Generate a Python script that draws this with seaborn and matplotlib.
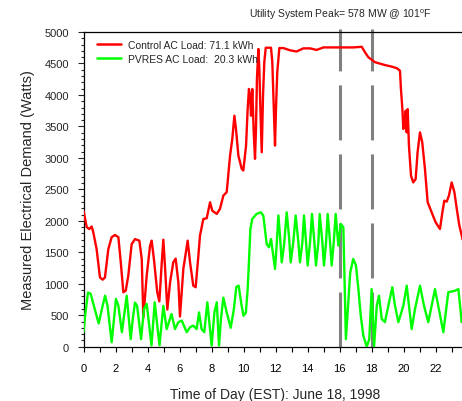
import matplotlib
matplotlib.use("Agg")
import matplotlib.pyplot as plt
import seaborn as sns
import pandas as pd
from matplotlib.ticker import MultipleLocator

# ---- data ----
control_hours = [0.00, 0.20, 0.36, 0.51, 0.61, 0.82, 1.03, 1.20, 1.34, 1.55, 1.76, 1.97, 2.18, 2.33,
                 2.49, 2.64, 2.80, 3.01, 3.22, 3.49, 3.64, 3.74, 3.95, 4.16, 4.26, 4.40, 4.61, 4.74,
                 4.88, 4.99, 5.09, 5.24, 5.41, 5.61, 5.76, 5.93, 6.03, 6.24, 6.51, 6.66, 6.86, 7.01,
                 7.18, 7.28, 7.49, 7.70, 7.91, 8.05, 8.33, 8.53, 8.74, 8.95, 9.16, 9.30, 9.43, 9.53,
                 9.68, 9.89, 9.99, 10.16, 10.26, 10.34, 10.41, 10.47, 10.55, 10.64, 10.72, 10.78,
                 10.84, 10.93, 10.99, 11.05, 11.14, 11.22, 11.30, 11.39, 11.55, 11.72, 11.80, 11.90,
                 11.97, 12.03, 12.11, 12.24, 12.49, 12.90, 13.32, 13.53, 13.74, 14.16, 14.57, 14.99,
                 15.40, 15.82, 16.24, 16.86, 17.39, 17.59, 17.80, 18.01, 18.22, 18.43, 18.84, 19.26,
                 19.58, 19.78, 19.84, 19.93, 19.99, 20.05, 20.14, 20.20, 20.26, 20.34, 20.47, 20.61,
                 20.76, 20.88, 21.03, 21.17, 21.34, 21.51, 21.76, 22.01, 22.28, 22.43, 22.55, 22.70,
                 22.84, 23.01, 23.18, 23.33, 23.49, 23.70]
control_watts = [2160, 1900, 1870, 1910, 1820, 1550, 1100, 1065, 1100, 1550, 1740, 1775, 1740, 1340,
                 865, 890, 1130, 1630, 1710, 1685, 1395, 460, 1130, 1605, 1685, 1395, 865, 720,
                 1290, 1700, 1290, 590, 1020, 1340, 1400, 1020, 480, 1235, 1685, 1340, 970, 945,
                 1445, 1765, 2030, 2040, 2295, 2160, 2110, 2190, 2400, 2455, 3035, 3300, 3670, 3460,
                 3035, 2825, 2800, 3195, 3775, 4095, 3990, 3670, 4095, 3405, 2985, 3460,
                 4255, 4730, 4415, 3830, 3090, 3990, 4520, 4750, 4750, 4750, 4520, 3725,
                 3195, 3780, 4360, 4745, 4745, 4710, 4690, 4715, 4740, 4740, 4715, 4755,
                 4755, 4755, 4755, 4755, 4765, 4680, 4600, 4560, 4520, 4505, 4475, 4450,
                 4425, 4385, 4095, 3775, 3460, 3565, 3750, 3405, 3775, 3195, 2715, 2610,
                 2665, 3090, 3405, 3250, 2825, 2295, 2135, 1975, 1870, 2135, 2320, 2305,
                 2400, 2610, 2455, 2190, 1925, 1700]

pvres_hours = [0.00, 0.10, 0.28, 0.45, 0.70, 0.95, 1.15, 1.35, 1.50, 1.76, 2.03, 2.18, 2.40, 2.70,
               2.95, 3.08, 3.22, 3.35, 3.60, 3.78, 3.95, 4.25, 4.45, 4.75, 4.99, 5.20, 5.50, 5.72,
               5.93, 6.14, 6.45, 6.66, 6.86, 7.07, 7.22, 7.38, 7.55, 7.74, 7.91, 8.01, 8.18, 8.33,
               8.47, 8.59, 8.74, 8.95, 9.20, 9.40, 9.55, 9.70, 9.85, 10.00, 10.15, 10.26, 10.34,
               10.43, 10.55, 10.82, 11.09, 11.24, 11.34, 11.45, 11.59, 11.72, 11.86, 11.97, 12.07,
               12.18, 12.28, 12.39, 12.53, 12.70, 12.84, 12.95, 13.11, 13.26, 13.43, 13.53, 13.68,
               13.78, 13.91, 14.01, 14.16, 14.28, 14.43, 14.53, 14.68, 14.76, 14.93, 15.03, 15.16,
               15.26, 15.41, 15.51, 15.64, 15.76, 15.93, 16.08, 16.24, 16.30, 16.40, 16.52, 16.67,
               16.86, 17.03, 17.18, 17.33, 17.49, 17.70, 17.86, 18.01, 18.16, 18.33, 18.47, 18.64,
               18.84, 19.05, 19.30, 19.47, 19.68, 19.99, 20.20, 20.51, 20.72, 21.03, 21.28, 21.55,
               21.97, 22.49, 22.80, 23.22, 23.43, 23.64, 23.75]
pvres_watts = [230, 490, 860, 840, 600, 370, 600, 810, 650, 70, 760, 650, 230, 810,
               120, 440, 700, 650, 120, 600, 680, 20, 705, 20, 650, 280, 520, 280,
               390, 415, 230, 310, 335, 280, 545, 280, 230, 705, 280, 16, 545, 705,
               16, 440, 780, 545, 300, 600, 950, 970, 700, 490, 545, 915, 1340,
               1870, 2030, 2110, 2135, 2080, 1870, 1630, 1580, 1710, 1445, 1235, 1605,
               2085, 1765, 1340, 1605, 2135, 1765, 1340, 1660, 2085, 1660, 1340, 1660,
               2085, 1660, 1290, 1660, 2110, 1660, 1290, 1660, 2110, 1660, 1290, 1660,
               2110, 1660, 1290, 1660, 2110, 1605, 1950, 1900, 1235, 120, 600, 1180,
               1395, 1290, 915, 490, 175, 0, 120, 915, 0, 650, 810, 440,
               390, 650, 945, 650, 390, 650, 970, 280, 600, 970, 650, 390,
               915, 230, 865, 890, 915, 390, 500]

peak_hours = [16, 18]
legend_labels = ["Control AC Load: 71.1 kWh", "PVRES AC Load:  20.3 kWh"]
title_text = "Utility System Peak= 578 MW @ 101$^{\\mathrm{o}}$F"
x_label = "Time of Day (EST): June 18, 1998"
y_label = "Measured Electrical Demand (Watts)"

# ---- style ----
sns.set_style("ticks")
plt.rcParams['font.family'] = ['Liberation Sans', 'DejaVu Sans']
plt.rcParams['mathtext.fontset'] = 'custom'
plt.rcParams['mathtext.rm'] = 'Liberation Sans'
plt.rcParams['lines.scale_dashes'] = False

fig = plt.figure(figsize=(4.62, 4.02), dpi=100)
W, H = 462, 402
ax = fig.add_axes([83.5 / W, (H - 347.7) / H, 384 / W, 314.7 / H])

df_c = pd.DataFrame({"hour": control_hours, "watts": control_watts})
df_p = pd.DataFrame({"hour": pvres_hours, "watts": pvres_watts})

for h in peak_hours:
    ax.plot([h, h], [0, 5048], color="#808080", lw=2.2, linestyle=(0, (39.6, 10.1)),
            clip_on=False, zorder=1, solid_capstyle='butt', dash_capstyle='butt')

sns.lineplot(data=df_c, x="hour", y="watts", color="#ff0000", lw=1.7, ax=ax,
             estimator=None, sort=False, label=legend_labels[0], zorder=3)
sns.lineplot(data=df_p, x="hour", y="watts", color="#00ff00", lw=1.7, ax=ax,
             estimator=None, sort=False, label=legend_labels[1], zorder=3)

ax.set_xlim(0, 24)
ax.set_ylim(0, 5000)
ax.xaxis.set_major_locator(MultipleLocator(2))
ax.xaxis.set_minor_locator(MultipleLocator(1))
ax.yaxis.set_major_locator(MultipleLocator(500))
ax.yaxis.set_minor_locator(MultipleLocator(100))

ax.tick_params(axis='x', which='both', direction='out', length=3.5, width=0.8, colors='black',
               labelsize=8, pad=8, top=False)
ax.tick_params(axis='y', which='major', direction='out', length=4.3, width=0.8, labelsize=8, pad=6)
ax.tick_params(axis='y', which='minor', direction='out', length=2.2, width=0.8)

for s in ['left', 'bottom', 'top']:
    ax.spines[s].set_visible(True)
    ax.spines[s].set_linewidth(0.9)
    ax.spines[s].set_color('black')
ax.spines['right'].set_visible(False)

ax.set_xlabel(x_label, fontsize=10, labelpad=10)
ax.set_ylabel(y_label, fontsize=10.5, labelpad=7)

leg = ax.legend(loc='upper left', bbox_to_anchor=(0.035, 0.975), frameon=False, fontsize=7.5,
                handlelength=2.3, handletextpad=0.7, labelspacing=0.35, borderpad=0,
                borderaxespad=0)
for line in leg.get_lines():
    line.set_linewidth(1.8)

fig.text(340 / W, 1 - 15 / H, title_text, ha='center', va='center', fontsize=7.5)

fig.savefig("out.png", dpi=100)
